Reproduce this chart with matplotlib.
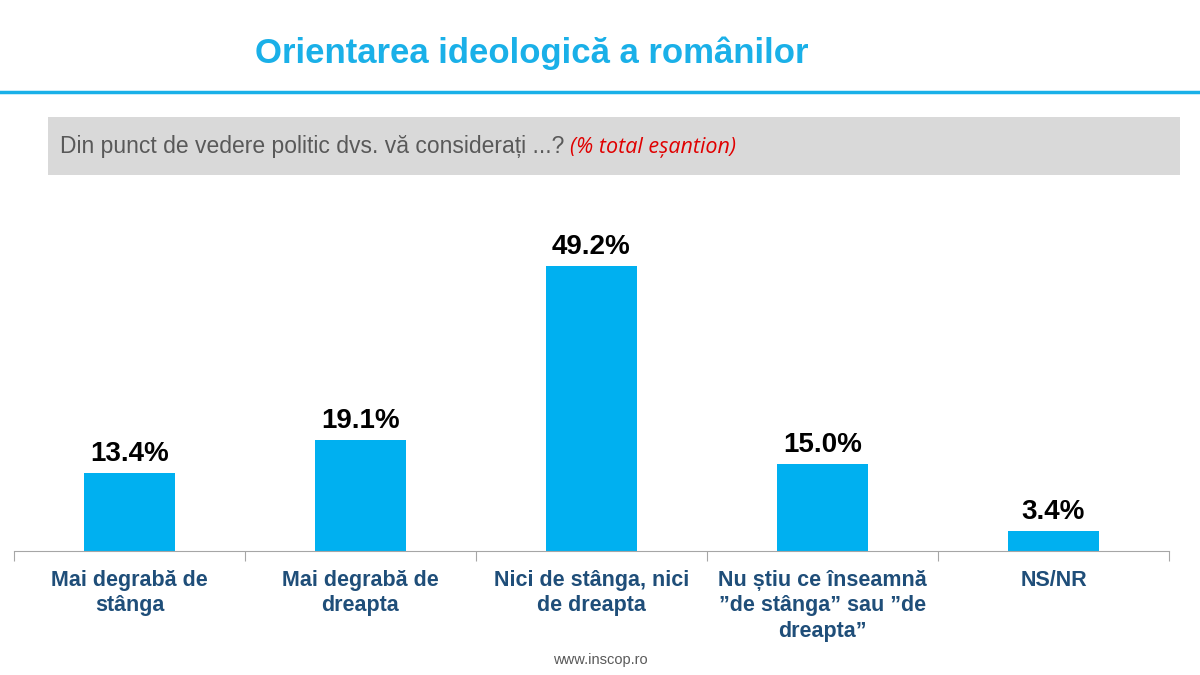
import matplotlib
matplotlib.use("Agg")
import matplotlib.pyplot as plt
from matplotlib.patches import Rectangle
from matplotlib.lines import Line2D

CATEGORIES = [
    "Mai degrabă de\nstânga",
    "Mai degrabă de\ndreapta",
    "Nici de stânga, nici\nde dreapta",
    "Nu știu ce înseamnă\n”de stânga” sau ”de\ndreapta”",
    "NS/NR",
]
VALUES = [13.4, 19.1, 49.2, 15.0, 3.4]

TITLE = "Orientarea ideologică a românilor"
QUESTION = "Din punct de vedere politic dvs. vă considerați ...?"
QUESTION_NOTE = "(% total eșantion)"
FOOTER = "www.inscop.ro"

BAR_COLOR = "#00b0f0"
CYAN = "#1ab0e8"
NAVY = "#1f4e79"
ARIAL = ["Liberation Sans", "DejaVu Sans"]


def main():
    W, H = 1200, 675
    fig = plt.figure(figsize=(12, 6.75), dpi=100)
    fig.patch.set_facecolor("white")

    # header: title, cyan rule, grey question box
    fig.text(532 / W, 1 - 53 / H, TITLE, ha="center", va="center",
             fontsize=25, fontweight="bold", color=CYAN, family=ARIAL)
    fig.add_artist(Line2D([0, 1], [1 - 92 / H] * 2, color=CYAN, lw=2.5,
                          transform=fig.transFigure))
    fig.add_artist(Rectangle((48 / W, 1 - 175 / H), 1132 / W, 58 / H,
                             transform=fig.transFigure, facecolor="#d9d9d9",
                             edgecolor="none"))
    q = fig.text(60 / W, 1 - 153 / H, QUESTION, ha="left", va="baseline",
                 fontsize=16.5, color="#595959", family=ARIAL)
    fig.canvas.draw()
    bb = q.get_window_extent()
    fig.text((bb.x1 + 6) / W, 1 - 153 / H, QUESTION_NOTE, ha="left",
             va="baseline", fontsize=15.5, color="#e00000", style="italic",
             family=["Open Sans", "DejaVu Sans"])

    # bar chart
    ax = fig.add_axes([14 / W, 1 - 551 / H, 1155 / W, 347.5 / H])
    x = list(range(len(VALUES)))
    bars = ax.bar(x, VALUES, width=0.39, color=BAR_COLOR)
    for b, v in zip(bars, VALUES):
        ax.text(b.get_x() + b.get_width() / 2, v + 1.1, f"{v:.1f}%",
                ha="center", va="bottom", fontsize=20, fontweight="bold",
                color="black", family=ARIAL)

    ax.set_xlim(-0.5, len(VALUES) - 0.5)
    ax.set_ylim(0, 60)
    for s in ("top", "right", "left"):
        ax.spines[s].set_visible(False)
    ax.spines["bottom"].set_color("#a6a6a6")
    ax.set_yticks([])
    ax.set_xticks([i - 0.5 for i in range(len(VALUES) + 1)])
    ax.set_xticklabels([])
    ax.tick_params(axis="x", length=7, color="#a6a6a6", direction="out")

    for i, lab in enumerate(CATEGORIES):
        ax.text(i, -3.2, lab, ha="center", va="top", fontsize=15.5,
                fontweight="bold", color=NAVY, family=ARIAL,
                linespacing=1.3)

    fig.text(600 / W, 1 - 660 / H, FOOTER, ha="center", va="center",
             fontsize=10.5, color="#595959", family=ARIAL)

    fig.savefig("out.png", dpi=100, facecolor="white")
    plt.close(fig)


if __name__ == "__main__":
    main()
